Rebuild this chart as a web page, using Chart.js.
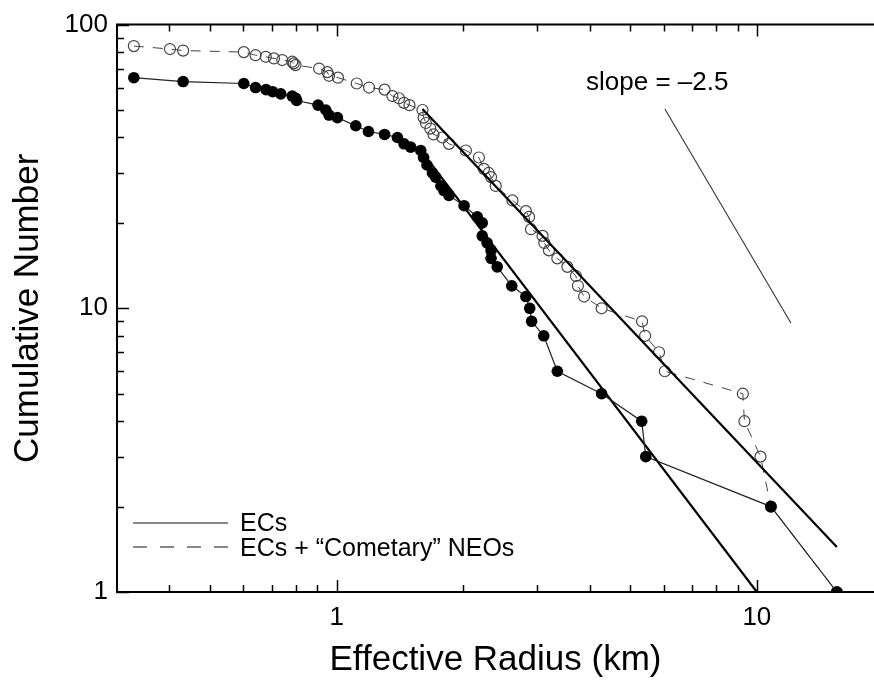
<!DOCTYPE html>
<html lang="en">
<head>
    <meta charset="utf-8" />
    <title>Cumulative Number vs Effective Radius</title>
    <style>
        html, body {
            margin: 0;
            padding: 0;
            background: #fff;
        }
        canvas {
            display: block;
        }
    </style>
</head>
<body>
    <canvas id="myChart" width="874" height="685"></canvas>

    <script src="https://cdn.jsdelivr.net/npm/chart.js@4.4.1/dist/chart.umd.min.js"></script>
    <script>
        // ECs (filled circles, solid line)
        var ecRadius = [0.329, 0.431, 0.601, 0.641, 0.679, 0.704, 0.736, 0.784, 0.799, 0.803,
                        0.903, 0.942, 0.959, 1.004, 1.11, 1.19, 1.30, 1.395, 1.446, 1.50,
                        1.585, 1.61, 1.64, 1.69, 1.72, 1.77, 1.80, 1.85, 2.01, 2.16,
                        2.22, 2.22, 2.28, 2.33, 2.33, 2.41, 2.61, 2.82, 2.88, 2.91,
                        3.11, 3.35, 4.27, 5.32, 5.44, 10.8, 15.5];
        var ecCount  = [65, 63, 62, 60, 59, 58, 57, 56, 55, 54,
                        52, 50, 48, 47, 44, 42, 41, 40, 38, 37,
                        36, 34, 32, 30, 29, 27, 26, 25, 23, 21,
                        20, 18, 17, 16, 15, 14, 12, 11, 10, 9,
                        8, 6, 5, 4, 3, 2, 1];

        // ECs + "Cometary" NEOs (open circles, dashed line)
        var allRadius = [0.329, 0.401, 0.431, 0.601, 0.641, 0.678, 0.709, 0.742, 0.784, 0.790,
                         0.798, 0.908, 0.950, 0.959, 1.007, 1.116, 1.194, 1.30, 1.357, 1.407,
                         1.446, 1.49, 1.60, 1.61, 1.63, 1.67, 1.70, 1.785, 1.85, 2.03,
                         2.18, 2.24, 2.30, 2.33, 2.39, 2.62, 2.82, 2.87, 2.90, 3.09,
                         3.12, 3.20, 3.35, 3.54, 3.71, 3.75, 3.88, 4.27, 5.33, 5.42,
                         5.85, 6.04, 9.26, 9.34, 10.2, 10.8, 15.5];
        var allCount  = [84, 82, 81, 80, 78, 77, 76, 75, 74, 73,
                         72, 70, 68, 66, 65, 62, 60, 59, 56, 55,
                         53, 52, 50, 47, 45, 43, 41, 40, 38, 36,
                         34, 31, 30, 29, 27, 24, 22, 21, 19, 18,
                         17, 16, 15, 14, 13, 12, 11, 10, 9, 8,
                         7, 6, 5, 4, 3, 2, 1];

        // power-law fits and reference slope
        var ecFitRadius = [1.63, 10];
        var ecFitCount = [34.2, 1];
        var allFitRadius = [1.60, 15.5];
        var allFitCount = [50.4, 1.44];
        var slopeRadius = [6.04, 12.05];
        var slopeCount = [50.4, 8.87];

        // axes
        var xTickLabels = [1, 10];
        var yTickLabels = [1, 10, 100];
        var xMinorTicks = [0.4, 0.5, 0.6, 0.7, 0.8, 0.9, 2, 3, 4, 5, 6, 7, 8, 9];
        var yMinorTicks = [2, 3, 4, 5, 6, 7, 8, 9, 20, 30, 40, 50, 60, 70, 80, 90];

        var fontName = '"Liberation Sans", Arial, Helvetica, sans-serif';

        function pairs(xs, ys) {
            return xs.map(function (x, i) { return { x: x, y: ys[i] }; });
        }

        // frame, inward tick marks, legend and slope label
        var decor = {
            id: 'decor',
            afterDraw: function (chart) {
                var ctx = chart.ctx;
                var area = chart.chartArea;
                var xs = chart.scales.x;
                var ys = chart.scales.y;
                ctx.save();
                ctx.strokeStyle = '#000';

                // top frame
                ctx.lineWidth = 2;
                ctx.beginPath();
                ctx.moveTo(area.left - 1, area.top);
                ctx.lineTo(area.right, area.top);
                ctx.stroke();

                ctx.lineWidth = 1.5;
                ctx.beginPath();
                function xTick(v, len) {
                    var px = Math.round(xs.getPixelForValue(v)) + 0.5;
                    if (px > area.right) return;
                    ctx.moveTo(px, area.bottom);
                    ctx.lineTo(px, area.bottom - len);
                    ctx.moveTo(px, area.top);
                    ctx.lineTo(px, area.top + len);
                }
                function yTick(v, len) {
                    var py = Math.round(ys.getPixelForValue(v)) + 0.5;
                    ctx.moveTo(area.left, py);
                    ctx.lineTo(area.left + len, py);
                }
                xMinorTicks.forEach(function (v) { xTick(v, 7); });
                xTickLabels.forEach(function (v) { xTick(v, 12); });
                yMinorTicks.forEach(function (v) { yTick(v, 7); });
                yTickLabels.forEach(function (v) { yTick(v, 12); });
                ctx.stroke();

                // legend
                var lx = area.left + 16;
                ctx.lineWidth = 1.2;
                ctx.strokeStyle = '#111';
                ctx.beginPath();
                ctx.moveTo(lx, 523);
                ctx.lineTo(lx + 95, 523);
                ctx.stroke();
                ctx.setLineDash([14, 13]);
                ctx.beginPath();
                ctx.moveTo(lx, 547);
                ctx.lineTo(lx + 95, 547);
                ctx.stroke();
                ctx.setLineDash([]);

                ctx.fillStyle = '#000';
                ctx.font = '25px ' + fontName;
                ctx.textBaseline = 'middle';
                ctx.textAlign = 'left';
                ctx.fillText('ECs', lx + 107, 524);
                ctx.fillText('ECs + \u201CCometary\u201D NEOs', lx + 107, 549);

                // slope label
                ctx.textBaseline = 'alphabetic';
                ctx.font = '26px ' + fontName;
                ctx.fillText('slope = \u20132.5', 586, 90);
                ctx.restore();
            }
        };

        var ctx = document.getElementById('myChart');
        var myChart = new Chart(ctx, {
            type: 'scatter',
            data: {
                datasets: [{
                    label: 'ECs',
                    data: pairs(ecRadius, ecCount),
                    showLine: true,
                    borderColor: '#222',
                    borderWidth: 1.2,
                    pointRadius: 5.8,
                    pointBackgroundColor: '#000',
                    pointBorderColor: '#000',
                    pointBorderWidth: 0,
                    order: 0
                }, {
                    label: 'ECs + "Cometary" NEOs',
                    data: pairs(allRadius, allCount),
                    showLine: true,
                    borderColor: '#444',
                    borderWidth: 1,
                    borderDash: [10, 9],
                    pointRadius: 5.5,
                    pointBackgroundColor: 'rgba(255,255,255,0)',
                    pointBorderColor: '#444',
                    pointBorderWidth: 1.2,
                    order: 3
                }, {
                    label: 'ECs fit',
                    data: pairs(ecFitRadius, ecFitCount),
                    showLine: true,
                    borderColor: '#000',
                    borderWidth: 2.2,
                    pointRadius: 0,
                    order: 1
                }, {
                    label: 'All fit',
                    data: pairs(allFitRadius, allFitCount),
                    showLine: true,
                    borderColor: '#000',
                    borderWidth: 2.2,
                    pointRadius: 0,
                    order: 1
                }, {
                    label: 'slope',
                    data: pairs(slopeRadius, slopeCount),
                    showLine: true,
                    borderColor: '#333',
                    borderWidth: 1.1,
                    pointRadius: 0,
                    order: 2
                }]
            },
            options: {
                responsive: false,
                animation: false,
                devicePixelRatio: 1,
                layout: {
                    autoPadding: false,
                    padding: { top: 18, right: 0, left: 0, bottom: 0 }
                },
                plugins: {
                    legend: { display: false },
                    tooltip: { enabled: false }
                },
                scales: {
                    x: {
                        type: 'logarithmic',
                        min: 0.3,
                        max: 19.0,
                        afterFit: function (scale) { scale.height = 93; },
                        afterBuildTicks: function (scale) {
                            scale.ticks = xTickLabels.map(function (v) { return { value: v, major: true }; });
                        },
                        grid: { display: false, drawTicks: false },
                        border: { display: true, color: '#000', width: 2 },
                        ticks: {
                            color: '#000',
                            padding: 10,
                            autoSkip: false,
                            maxRotation: 0,
                            font: { family: fontName, size: 26 },
                            callback: function (value) { return String(value); }
                        },
                        title: {
                            display: true,
                            text: 'Effective Radius (km)',
                            color: '#000',
                            font: { family: fontName, size: 35 },
                            padding: { top: 0, bottom: 4 }
                        }
                    },
                    y: {
                        type: 'logarithmic',
                        min: 1,
                        max: 100,
                        afterFit: function (scale) { scale.width = 117; },
                        afterBuildTicks: function (scale) {
                            scale.ticks = yTickLabels.map(function (v) { return { value: v, major: true }; });
                        },
                        grid: { display: false, drawTicks: false },
                        border: { display: true, color: '#000', width: 2 },
                        ticks: {
                            color: '#000',
                            padding: 9,
                            autoSkip: false,
                            font: { family: fontName, size: 26 },
                            callback: function (value) { return String(value); }
                        },
                        title: {
                            display: true,
                            text: 'Cumulative Number',
                            color: '#000',
                            font: { family: fontName, size: 35 },
                            padding: { top: 7, bottom: 0 }
                        }
                    }
                }
            },
            plugins: [decor]
        });
    </script>
</body>
</html>
